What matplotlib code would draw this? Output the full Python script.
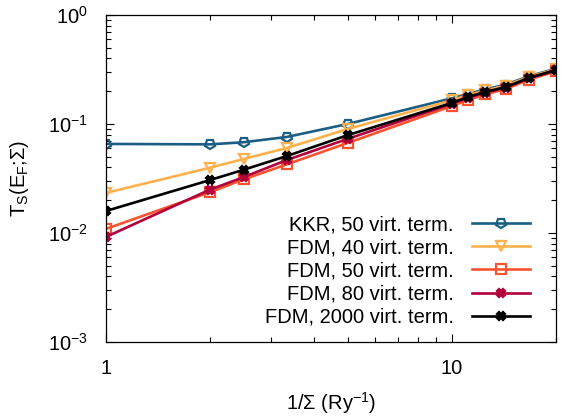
"""Transmission vs inverse broadening, KKR vs FDM (log-log)."""
import matplotlib
matplotlib.use("Agg")
import matplotlib.pyplot as plt
from matplotlib.markers import MarkerStyle
from matplotlib.transforms import Affine2D

plt.rcParams["font.family"] = ["Liberation Sans", "DejaVu Sans"]
plt.rcParams["mathtext.fontset"] = "custom"
plt.rcParams["mathtext.rm"] = "Liberation Sans"
plt.rcParams["mathtext.it"] = "Liberation Sans"

inv_sigma = [1, 2, 2.5, 3.333, 5, 10, 11.11, 12.5, 14.29, 16.67, 20]
kkr_50 = [0.0656, 0.065, 0.068, 0.076, 0.100, 0.172, 0.188, 0.208, 0.229, 0.274, 0.322]
fdm_40 = [0.0233, 0.0397, 0.0477, 0.0602, 0.090, 0.165, 0.183, 0.203, 0.224, 0.270, 0.318]
fdm_50 = [0.0109, 0.0237, 0.031, 0.0426, 0.067, 0.146, 0.166, 0.187, 0.209, 0.255, 0.305]
fdm_80 = [0.0092, 0.025, 0.0325, 0.0467, 0.073, 0.153, 0.173, 0.194, 0.215, 0.262, 0.311]
fdm_2000 = [0.0159, 0.0306, 0.038, 0.0508, 0.079, 0.156, 0.177, 0.197, 0.218, 0.264, 0.313]

labels = ["KKR, 50 virt. term.", "FDM, 40 virt. term.", "FDM, 50 virt. term.",
          "FDM, 80 virt. term.", "FDM, 2000 virt. term."]
colors = ["#1b5e83", "#ffb14e", "#fa5330", "#b3003a", "#000000"]

pent_down = MarkerStyle("p", fillstyle="none", transform=Affine2D().rotate_deg(180))
markers = [pent_down, "v", "s", "X", "X"]
fills = ["none", "none", "none", "full", "full"]

fig = plt.figure(figsize=(5.75, 4.16), dpi=100)
ax = fig.add_axes([0.1843, 0.178, 0.7827, 0.786])

for ys, lab, c, m, f in zip([kkr_50, fdm_40, fdm_50, fdm_80, fdm_2000], labels, colors, markers, fills):
    ax.plot(inv_sigma, ys, color=c, lw=1.9, marker=m, ms=(6 if f == "full" else 7),
            mfc=(c if f == "full" else "none"), mec=c, mew=1.6, label=lab)

ax.set_xscale("log"); ax.set_yscale("log")
ax.set_xlim(1, 20); ax.set_ylim(1e-3, 1)
ax.set_xticks([1, 10]); ax.set_xticklabels(["1", "10"])
ax.tick_params(which="both", direction="in", top=True, right=True, labelsize=14.5, width=0.8)
ax.tick_params(axis="y", which="major", length=6, pad=13)
ax.tick_params(axis="x", which="major", length=6, pad=12)
ax.tick_params(which="minor", length=3.5)
for s in ax.spines.values():
    s.set_linewidth(0.9)

ax.set_xlabel(r"1/Σ (Ry$^{\mathrm{-1}}$)", fontsize=14.5, labelpad=9)
ax.set_ylabel(r"T$_{\mathrm{S}}$(E$_{\mathrm{F}}$;Σ)", fontsize=14.5, labelpad=12)

ax.legend(loc="lower right", bbox_to_anchor=(0.97, 0.01), frameon=False, markerfirst=False,
          fontsize=14.5, handlelength=2.9, labelspacing=0.2, handletextpad=0.9, borderaxespad=0.2)

fig.savefig("out.png", dpi=100)
